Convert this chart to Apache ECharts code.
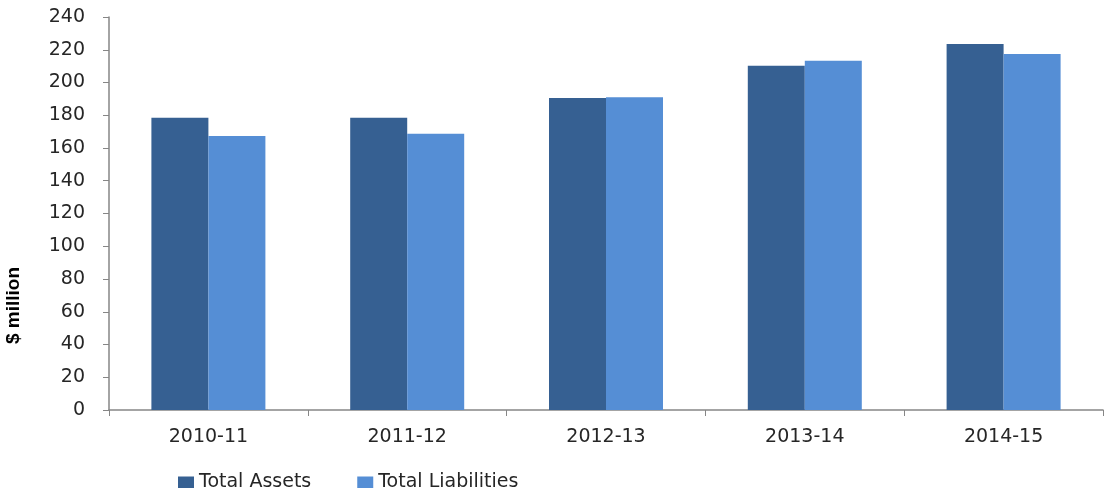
<!DOCTYPE html>
<html><head><meta charset="utf-8">
<script src="https://cdn.jsdelivr.net/npm/echarts@6/dist/echarts.min.js"></script>
<style>html,body{margin:0;padding:0;background:#fff}#c{width:1108px;height:488px}</style>
</head><body><div id="c"></div>
<script>
const categories = ['2010-11','2011-12','2012-13','2013-14','2014-15'];
const totalAssets = [178.5, 178.5, 190.5, 210.3, 223.5];
const totalLiabilities = [167.3, 168.7, 191, 213.3, 217.4];
const yTicks = {min:0, max:240, interval:20};

const chart = echarts.init(document.getElementById('c'));
const font = '"DejaVu Sans", "Open Sans", sans-serif';
chart.setOption({
  animation:false,
  textStyle:{fontFamily:font},
  grid:{left:109, right:5, top:17, bottom:78},
  legend:{
    top:468, left:173, itemWidth:16, itemHeight:12, itemGap:46,
    icon:'rect',
    textStyle:{fontSize:19, color:'#262626', fontFamily:font},
    data:['Total Assets','Total Liabilities']
  },
  xAxis:{
    type:'category', data:categories,
    axisLine:{lineStyle:{color:'#868686', width:1.5}},
    axisTick:{show:true, length:6, lineStyle:{color:'#868686'}},
    axisLabel:{fontSize:19, color:'#262626', margin:18, fontFamily:font}
  },
  yAxis:{
    type:'value', min:yTicks.min, max:yTicks.max, interval:yTicks.interval,
    axisLine:{show:true, lineStyle:{color:'#868686', width:1.5}},
    axisTick:{show:true, length:6, lineStyle:{color:'#868686'}},
    splitLine:{show:false},
    axisLabel:{fontSize:19, color:'#262626', margin:24, fontFamily:font}
  },
  graphic:[{
    type:'text', left:4, top:267, rotation:Math.PI/2,
    style:{text:'$ million', fontSize:19, fontWeight:'bold', fill:'#000', fontFamily:'"Liberation Sans", sans-serif'}
  }],
  series:[
    {name:'Total Assets', type:'bar', data:totalAssets, barWidth:57, barGap:'0%',
     itemStyle:{color:'#366092'}},
    {name:'Total Liabilities', type:'bar', data:totalLiabilities, barWidth:57, barGap:'0%',
     itemStyle:{color:'#558ED5'}}
  ]
});
</script></body></html>
